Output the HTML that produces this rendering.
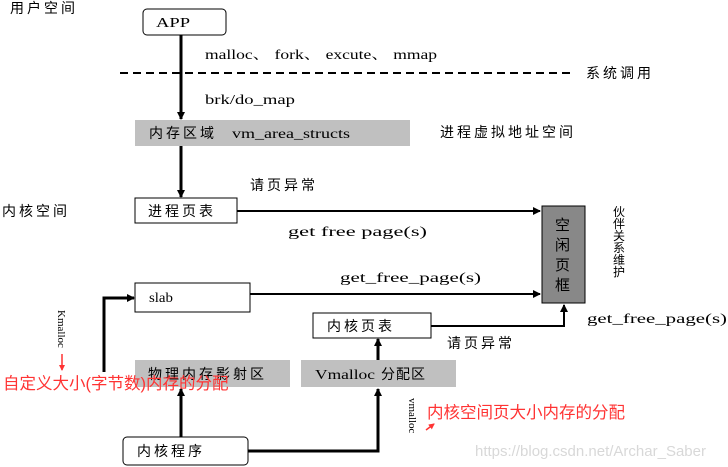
<!DOCTYPE html>
<html><head><meta charset="utf-8"><style>
html,body{margin:0;padding:0;background:#fff;width:728px;height:467px;overflow:hidden}
text{font-family:"Liberation Serif","Noto Serif CJK SC",serif;font-size:14px;fill:#000}
.c{font-family:"Liberation Sans","Noto Sans CJK SC",sans-serif;font-size:14px;letter-spacing:3px}
</style></head><body>
<svg width="728" height="467" viewBox="0 0 728 467" xmlns="http://www.w3.org/2000/svg">
<defs><marker id="a" markerWidth="8" markerHeight="8" refX="7" refY="4" orient="auto" markerUnits="userSpaceOnUse"><path d="M0,0 L8,4 L0,8 z" fill="#000"/></marker>
<marker id="r" markerWidth="6" markerHeight="6" refX="5" refY="3" orient="auto" markerUnits="userSpaceOnUse"><path d="M0,0 L6,3 L0,6 z" fill="#f33"/></marker></defs>
<text class="c" x="10" y="13">用户空间</text>
<text class="c" x="2" y="216">内核空间</text>
<rect x="143" y="9" width="83" height="26" rx="4" fill="#fff" stroke="#000"/>
<text x="156" y="27" textLength="34" lengthAdjust="spacingAndGlyphs">APP</text>
<text x="205" y="59" textLength="232" lengthAdjust="spacingAndGlyphs">malloc、 fork、 excute、 mmap</text>
<line x1="120" y1="73" x2="575" y2="73" stroke="#000" stroke-width="2" stroke-dasharray="8,5"/>
<text class="c" x="586" y="78">系统调用</text>
<text x="205" y="104" textLength="90" lengthAdjust="spacingAndGlyphs">brk/do_map</text>
<line x1="181" y1="35" x2="181" y2="119" stroke="#000" stroke-width="3" marker-end="url(#a)"/>
<rect x="135" y="120" width="275" height="26" fill="#c0c0c0"/>
<text class="c" x="149" y="138">内存区域</text>
<text x="232" y="138" textLength="118" lengthAdjust="spacingAndGlyphs">vm_area_structs</text>
<text class="c" x="440" y="137">进程虚拟地址空间</text>
<line x1="181" y1="146" x2="181" y2="197" stroke="#000" stroke-width="3" marker-end="url(#a)"/>
<text class="c" x="250" y="190">请页异常</text>
<rect x="135" y="198" width="102" height="25" fill="#fff" stroke="#000"/>
<text class="c" x="148" y="216">进程页表</text>
<line x1="237" y1="211" x2="540" y2="211" stroke="#000" stroke-width="2" marker-end="url(#a)"/>
<text x="288" y="236" textLength="139" lengthAdjust="spacingAndGlyphs">get  free  page(s)</text>
<rect x="542" y="206" width="43" height="97" fill="#888" stroke="#000"/>
<text class="c" x="555" y="230" style="font-size:15px">空</text>
<text class="c" x="555" y="250" style="font-size:15px">闲</text>
<text class="c" x="555" y="270" style="font-size:15px">页</text>
<text class="c" x="555" y="290" style="font-size:15px">框</text>
<g><text class="c" x="613" y="216" style="font-size:12px">伙</text><text class="c" x="613" y="228" style="font-size:12px">伴</text><text class="c" x="613" y="240" style="font-size:12px">关</text><text class="c" x="613" y="252" style="font-size:12px">系</text><text class="c" x="613" y="264" style="font-size:12px">维</text><text class="c" x="613" y="276" style="font-size:12px">护</text></g>
<text x="340" y="282" textLength="141" lengthAdjust="spacingAndGlyphs">get_free_page(s)</text>
<rect x="135" y="283" width="115" height="29" fill="#fff" stroke="#000"/>
<text x="149" y="302" textLength="24" lengthAdjust="spacingAndGlyphs">slab</text>
<line x1="250" y1="294" x2="540" y2="294" stroke="#000" stroke-width="2" marker-end="url(#a)"/>
<rect x="313" y="313" width="118" height="25" fill="#fff" stroke="#000"/>
<text class="c" x="327" y="331">内核页表</text>
<polyline points="431,326 564,326 564,305" fill="none" stroke="#000" stroke-width="2" marker-end="url(#a)"/>
<text x="587" y="323" textLength="140" lengthAdjust="spacingAndGlyphs">get_free_page(s)</text>
<text class="c" x="447" y="348">请页异常</text>
<rect x="135" y="360" width="155" height="27" fill="#c0c0c0"/>
<text class="c" x="148" y="379">物理内存影射区</text>
<rect x="301" y="360" width="155" height="27" fill="#c0c0c0"/>
<text x="315" y="379" textLength="60" lengthAdjust="spacingAndGlyphs">Vmalloc</text>
<text class="c" x="381" y="379" style="letter-spacing:1px">分配区</text>
<polyline points="104,372 104,298 134,298" fill="none" stroke="#000" stroke-width="3" marker-end="url(#a)"/>
<text x="0" y="0" transform="translate(58,310) rotate(90)" style="font-size:11px">Kmalloc</text>
<line x1="62" y1="354" x2="62" y2="370" stroke="#f33" stroke-width="1.5" marker-end="url(#r)"/>
<text x="3" y="389" style="fill:#f33;font-size:16.5px;font-family:'Liberation Sans','Noto Sans CJK SC',sans-serif">自定义大小(字节数)内存的分配</text>
<rect x="123" y="437" width="125" height="28" rx="4" fill="#fff" stroke="#000"/>
<text class="c" x="137" y="456">内核程序</text>
<line x1="181" y1="437" x2="181" y2="389" stroke="#000" stroke-width="3" marker-end="url(#a)"/>
<polyline points="248,451 378,451 378,389" fill="none" stroke="#000" stroke-width="3" marker-end="url(#a)"/>
<line x1="378" y1="360" x2="378" y2="339" stroke="#000" stroke-width="3" marker-end="url(#a)"/>
<text x="0" y="0" transform="translate(409,398) rotate(90)" style="font-size:11px">vmalloc</text>
<line x1="426" y1="430" x2="434" y2="424" stroke="#f33" stroke-width="1.5" marker-end="url(#r)"/>
<text x="427" y="418" style="fill:#f33;font-size:16.5px;font-family:'Liberation Sans','Noto Sans CJK SC',sans-serif">内核空间页大小内存的分配</text>
<text x="475" y="456" style="fill:#d8d8d8;font-size:15px;font-family:'Liberation Sans',sans-serif">https://blog.csdn.net/Archar_Saber</text>
</svg>
</body></html>
